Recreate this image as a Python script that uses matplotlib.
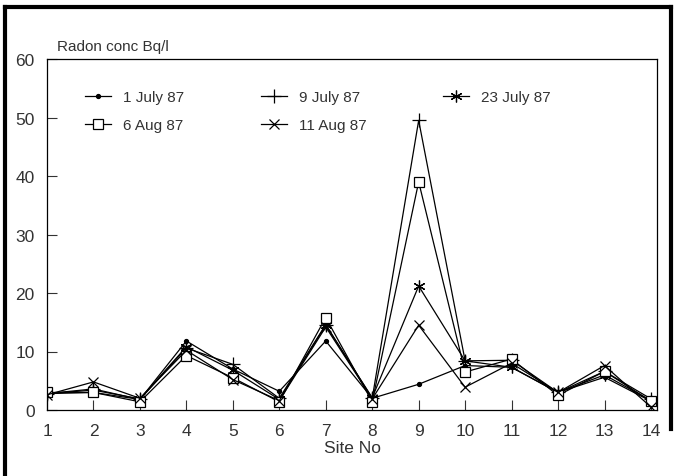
import numpy as np
import matplotlib
matplotlib.use("Agg")
from matplotlib import pyplot as plt
from matplotlib.lines import Line2D

# radon concentration per site (Bq/l)
sites = np.arange(1, 15)
jul01 = [2.8, 3.0, 1.8, 11.8, 7.0, 3.2, 11.8, 2.0, 4.4, 7.6, 7.3, 3.0, 5.6, 1.5]
jul09 = [2.8, 3.6, 1.8, 10.6, 7.8, 2.0, 14.6, 2.0, 49.5, 8.4, 8.5, 3.0, 6.6, 1.9]
jul23 = [2.8, 3.4, 1.9, 10.8, 6.8, 1.8, 14.5, 2.1, 21.2, 8.4, 7.3, 3.0, 6.0, 1.6]
aug06 = [3.0, 3.0, 1.4, 9.3, 5.5, 1.4, 15.8, 1.4, 39.0, 6.5, 8.7, 2.5, 6.6, 1.5]
aug11 = [2.6, 4.8, 2.0, 10.2, 5.2, 1.6, 14.2, 1.9, 14.5, 3.9, 8.0, 3.0, 7.6, 0.5]

labels = ['1 July 87', '9 July 87', '23 July 87', '6 Aug 87', '11 Aug 87']
ytick_vals = [0, 10, 20, 30, 40, 50, 60]

plt.rcParams['font.family'] = ['Liberation Sans', 'DejaVu Sans']

fig = plt.figure(figsize=(6.74, 4.77), dpi=100)
ax = fig.add_axes([47 / 674, 1 - 411 / 477, 610 / 674, 351 / 477])

star = (6, 2, 0)
styles = [
    dict(marker='o', ms=2.8, mfc='k'),
    dict(marker='+', ms=10, mew=0.9),
    dict(marker=star, ms=8.5, mew=0.9),
    dict(marker='s', ms=6.5, mfc='white', mew=0.9),
    dict(marker='x', ms=7.5, mew=0.9),
]
series = [jul01, jul09, jul23, aug06, aug11]
handles = []
for vals, st, lab in zip(series, styles, labels):
    h, = ax.plot(sites, vals, color='k', lw=0.9, label=lab, **st)
    handles.append(h)

ax.set_xlim(1, 14.13)
ax.set_ylim(0, 60)
ax.set_xticks(sites)
ax.set_yticks(ytick_vals)
ax.tick_params(direction='in', length=7, width=0.8, labelsize=12.5, colors='#333333',
               labelcolor='#333333', pad=9)
for s in ax.spines.values():
    s.set_linewidth(0.9)
ax.set_xlabel('Site No', fontsize=12.5, color='#333333', labelpad=2)
ax.text(47 / 674 + 0.015, 1 - 47 / 477, 'Radon conc Bq/l', transform=fig.transFigure,
        fontsize=11, color='#333333', va='center', ha='left')

order = [0, 3, 1, 4, 2]
ax.legend([handles[i] for i in order], [labels[i] for i in order], ncol=3,
          loc='upper left', bbox_to_anchor=(0.04, 0.951), frameon=False,
          fontsize=11, handlelength=1.7, columnspacing=5.0, labelspacing=0.95,
          handletextpad=0.8, labelcolor='#333333')

# thick outer frame of the scanned page
fig.add_artist(Line2D([5 / 674, 671 / 674], [1 - 8 / 477, 1 - 8 / 477],
                      transform=fig.transFigure, color='k', lw=3))
fig.add_artist(Line2D([5 / 674, 5 / 674], [0, 1 - 8 / 477],
                      transform=fig.transFigure, color='k', lw=3))
fig.add_artist(Line2D([671 / 674, 671 / 674], [1 - 430 / 477, 1 - 8 / 477],
                      transform=fig.transFigure, color='k', lw=3))

fig.savefig('out.png', dpi=100)
